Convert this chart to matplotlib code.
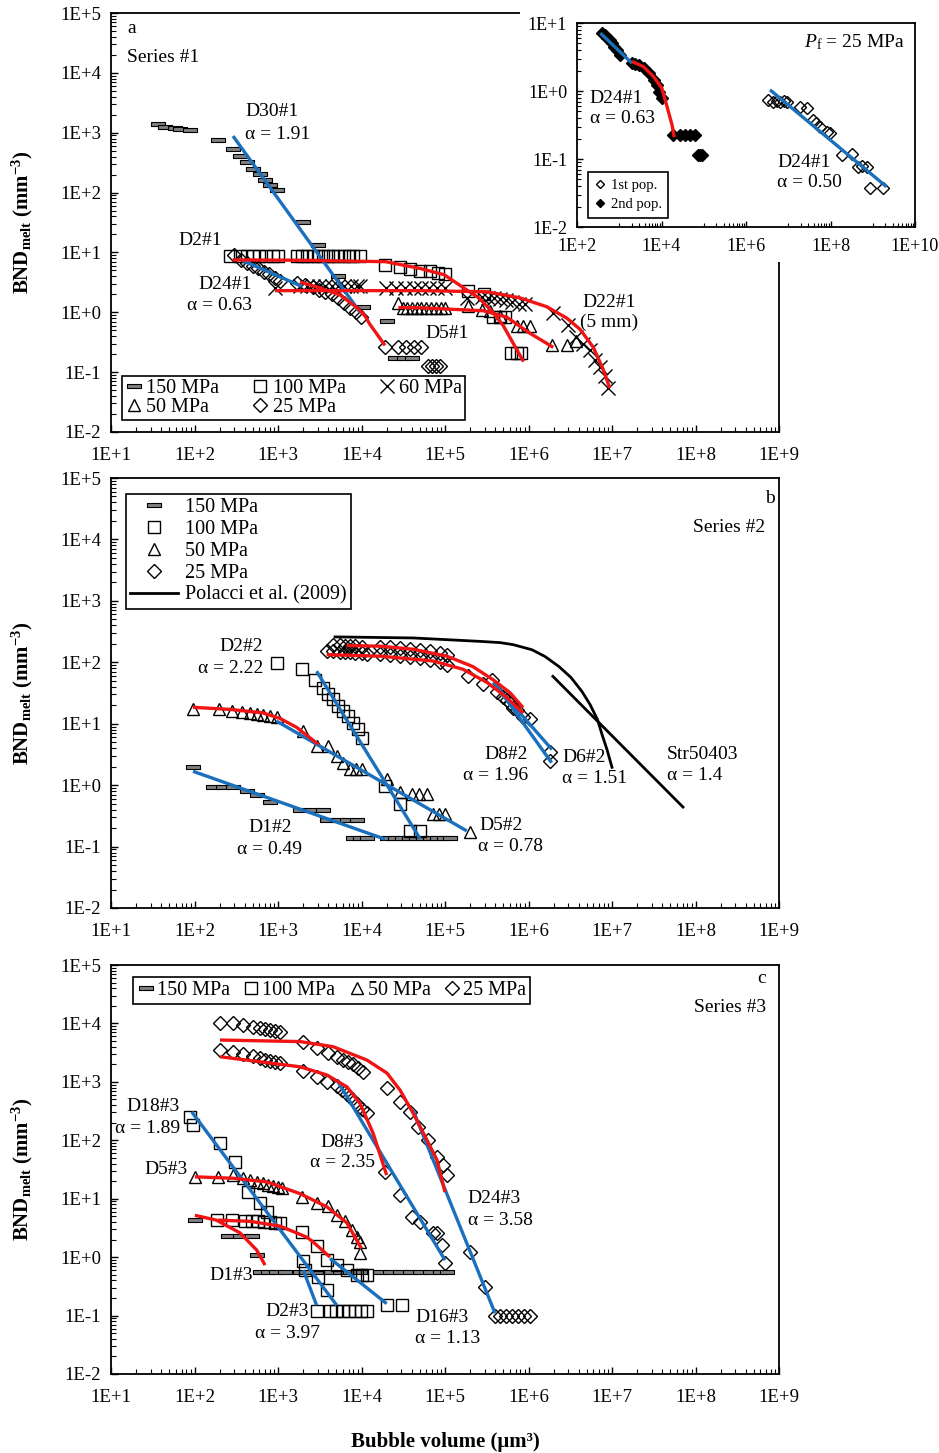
import numpy as np
import matplotlib
matplotlib.use("Agg")
import matplotlib.pyplot as plt
from matplotlib.path import Path
from matplotlib.lines import Line2D
from matplotlib.ticker import LogLocator, FixedLocator, FuncFormatter, NullFormatter

plt.rcParams['font.family'] = ['Liberation Serif', 'DejaVu Serif']
plt.rcParams['mathtext.fontset'] = 'custom'
plt.rcParams['mathtext.rm'] = 'Liberation Serif'
plt.rcParams['mathtext.it'] = 'Liberation Serif:italic'
plt.rcParams['mathtext.bf'] = 'Liberation Serif:bold'

# ---------------- panel a : series #1 ----------------
a150_x = [37, 44, 58, 67, 88, 191, 289, 351, 426, 502, 608, 700, 800, 972, 1992, 3012, 5200, 10400, 20200, 25000, 32000, 40000]
a150_y = [1390, 1250, 1190, 1150, 1100, 753, 535, 410, 325, 249, 205, 164, 135, 112, 31.7, 13.2, 4.0, 1.23, 0.72, 0.17, 0.17, 0.17]
a100_x = [266, 351, 420, 500, 600, 720, 860, 1000, 1690, 1950, 2250, 2600, 3000, 3450, 4000, 4600, 5300, 6100, 7000, 8000, 9500,
          19100, 28900, 38100, 50200, 66100, 82400, 100000, 188000, 293000, 380000, 450000, 530000, 620000, 720000, 820000]
a100_y = [8.6] * 21 + [6.1, 5.7, 5.3, 4.9, 4.9, 4.55, 4.4, 2.27, 2.0, 0.85, 0.85, 0.85, 0.21, 0.21, 0.21]
a60_x = [920, 1835, 2200, 2600, 3100, 3700, 4400, 5200, 6200, 7400, 8800, 9600,
         19700, 26000, 33000, 42000, 52000, 65000, 80000, 100000, 183000,
         280000, 330000, 390000, 460000, 540000, 640000, 760000, 900000,
         1.96e6, 2.97e6, 3.7e6, 4.5e6, 5.45e6, 6.3e6, 7.2e6, 8.2e6, 9.0e6]
a60_y = [2.55] + [2.8] * 11 + [2.5] * 8 + [1.75, 1.8, 1.75, 1.7, 1.65, 1.6, 1.5, 1.4, 1.35,
                                         0.98, 0.62, 0.38, 0.29, 0.23, 0.16, 0.12, 0.087, 0.055]
a50_x = [27400, 31000, 35000, 40000, 46000, 52000, 60000, 68000, 78000, 90000, 100000,
         188000, 277000, 350000, 455000, 720000, 850000, 1.03e6, 1.9e6, 2.9e6, 3.7e6]
a50_y = [1.44] + [1.2] * 10 + [1.28, 1.1, 1.06, 0.88, 0.6, 0.6, 0.6, 0.28, 0.28, 0.33]
a25_x = [300, 360, 430, 500, 580, 680, 790, 920, 1060,
         1700, 2100, 2600, 3100, 3700, 4400, 5200, 6200, 7300, 8500, 9800,
         19100, 27400, 34000, 42000, 52000, 62000, 70000, 78000, 86000]
a25_y = [9.0, 7.5, 6.6, 6.0, 5.4, 4.8, 4.3, 3.8, 3.3,
         3.1, 2.9, 2.6, 2.4, 2.2, 2.0, 1.7, 1.45, 1.2, 1.0, 0.85,
         0.26, 0.26, 0.26, 0.26, 0.26, 0.125, 0.125, 0.125, 0.125]

a_d30_blue_x = [289, 9600]
a_d30_blue_y = [880, 1.0]
a_d24_blue_x = [370, 1940]
a_d24_blue_y = [7.4, 2.7]
a_d24_red_x = [1835, 3184, 5530, 8800, 11000, 12600, 19100]
a_d24_red_y = [3.2, 2.55, 1.95, 1.2, 0.87, 0.63, 0.28]
a_d2_red_x = [286, 2000, 19500, 50200, 98000, 158000, 254000, 375000, 494000, 873000]
a_d2_red_y = [7.5, 7.4, 7.0, 5.4, 4.24, 2.7, 1.74, 1.0, 0.61, 0.15]
a_d22_red_x = [920, 50200, 316000, 790000, 1.65e6, 2.87e6, 4.14e6, 5.97e6, 7.87e6, 9.4e6]
a_d22_red_y = [2.3, 2.3, 2.2, 1.74, 1.24, 0.80, 0.52, 0.26, 0.11, 0.054]
a_d5_red_x = [27600, 50200, 288000, 548000, 1.03e6, 1.98e6]
a_d5_red_y = [1.2, 1.19, 1.06, 0.83, 0.45, 0.26]

# inset (D24#1, Pf = 25 MPa)
in2_x = [390, 450, 511, 590, 671, 770, 883, 1057, 1995, 2400, 2860, 3755, 4935, 6475, 7780, 8500, 10200,
         19200, 27700, 36000, 47000, 61000, 75000, 82000, 90000]
in2_y = [7.1, 6.6, 6.0, 5.6, 5.1, 4.5, 4.04, 3.4, 2.57, 2.5, 2.43, 2.2, 1.83, 1.46, 1.23, 0.98, 0.78,
         0.224, 0.224, 0.224, 0.224, 0.224, 0.115, 0.115, 0.115]
in1_x = [3.39e6, 4.37e6, 5.5e6, 6.5e6, 7.8e6, 9.4e6, 1.9e7, 2.74e7, 3.9e7, 4.6e7, 5.65e7, 8.1e7, 9.5e7,
         1.84e8, 3.2e8, 4.5e8, 5.5e8, 7.2e8, 8.6e8, 1.77e9]
in1_y = [0.74, 0.70, 0.72, 0.70, 0.71, 0.70, 0.59, 0.56, 0.375, 0.34, 0.30, 0.25, 0.24,
         0.114, 0.118, 0.077, 0.078, 0.077, 0.037, 0.037]
in2_blue_x = [357, 1995]
in2_blue_y = [7.1, 2.57]
in2_red_x = [1995, 3700, 6400, 10200, 13500, 17700, 20000]
in2_red_y = [2.72, 2.29, 1.64, 1.1, 0.59, 0.32, 0.21]
in1_blue_x = [3.7e6, 2.13e9]
in1_blue_y = [1.04, 0.039]

# ---------------- panel b : series #2 ----------------
b150_x = [96, 167, 219, 289, 426, 561, 801, 1835, 2550, 3460, 3860, 5090, 6700, 8830,
          7900, 9600, 11600, 20200, 25000, 30500, 37000, 45000, 55000, 66000, 80000, 98000, 114800]
b150_y = [1.95, 0.92, 0.92, 0.92, 0.79, 0.70, 0.53, 0.39, 0.39, 0.39, 0.27, 0.27, 0.27, 0.27] + [0.137] * 13
b100_x = [963, 1923, 2770, 3490, 4000, 4580, 5240, 6020, 6900, 7900, 9100, 10000, 19100, 28900, 38100, 50200]
b100_y = [98, 78, 52, 38, 30, 25, 19.5, 16, 13.2, 10.3, 8.1, 5.9, 0.97, 0.49, 0.18, 0.18]
b50_x = [96, 198, 279, 367, 462, 561, 661, 801, 963, 2010, 2900, 4000, 5040, 6020, 7280, 8700, 10000,
         20000, 28900, 39900, 48800, 60400, 71800, 84700, 100000, 199000]
b50_y = [17.5, 17.1, 16.1, 15.4, 15.0, 14.5, 14.0, 13.3, 12.7, 7.6, 4.33, 4.33, 2.97, 2.33, 1.81, 1.81, 1.81,
         1.24, 0.76, 0.71, 0.71, 0.71, 0.34, 0.34, 0.34, 0.17]
b25u_x = [4560, 5530, 6340, 7280, 8360, 10100, 16670, 21950, 28900, 38100, 50200, 66100, 87100, 105800,
          188000, 366000, 495000, 600000, 728000, 1.03e6, 1.81e6]
b25u_y = [190, 188, 186, 185, 183, 180, 178, 175, 170, 165, 158, 150, 140, 130, 59, 52, 27.7, 22, 17, 12, 3.4]
b25l_x = [3830, 4560, 5530, 6340, 7280, 8360, 10100, 11600, 16670, 21950, 28900, 38100, 50200, 66100, 87100,
          105800, 285000, 420000, 550000, 660000, 860000, 1.81e6]
b25l_y = [151, 150, 148, 146, 145, 143, 140, 138, 135, 132, 128, 124, 118, 110, 100, 90, 43.5, 33.4, 24, 18, 13, 2.44]

b_d1_blue_x = [96, 19100]
b_d1_blue_y = [1.68, 0.132]
b_d2_blue_x = [2900, 50200]
b_d2_blue_y = [71.5, 0.135]
b_d5_blue_x = [963, 182000]
b_d5_blue_y = [11, 0.18]
b_d5_red_x = [96, 266, 661, 1056, 1675, 2415, 3040]
b_d5_red_y = [18.5, 17.1, 15.0, 12.2, 8.7, 5.9, 4.6]
b_d8_blue_x = [417000, 1.89e6]
b_d8_blue_y = [40.7, 2.32]
b_d6_blue_x = [376000, 1.91e6]
b_d6_blue_y = [47, 3.8]
b_red_u_x = [6650, 16670, 41400, 105000, 216000, 376000, 600000, 860000]
b_red_u_y = [187, 183, 163, 126, 85, 52, 32, 18.3]
b_red_l_x = [3830, 16670, 71800, 164000, 318000, 553000, 860000]
b_red_l_y = [133, 126, 105, 77, 47, 26.6, 15]
polacci_x = [4820, 41400, 262600, 456000, 651500, 1.1e6, 1.58e6, 2.32e6, 3.23e6, 4.37e6, 5.45e6, 6.7e6,
             7.59e6, 8.71e6, 1e7]
polacci_y = [259, 249, 219, 209, 194, 160, 124, 85, 56.5, 33.4, 20.6, 11.7, 6.7, 3.8, 1.95]
str_x = [1.96e6, 7.08e7]
str_y = [59, 0.44]

# ---------------- panel c : series #3 ----------------
c150_x = [101, 252, 351, 484, 556, 608, 755, 945, 1200, 1835, 2415, 3184, 4197, 5530, 7283, 9594,
          16670, 21950, 28900, 38100, 50200, 66100, 87100, 105800]
c150_y = [4.4, 2.34, 2.34, 2.34, 1.08] + [0.56] * 19
c100_x = [88, 96, 202, 305, 438, 608, 740,
          186, 281, 402, 484, 575, 680, 801, 920, 1056, 1940, 2930, 3860, 5090, 6700, 8830, 10100, 11600, 20200, 30500,
          2010, 2100, 3010, 3860, 2930, 4200, 5000, 6000, 7000, 8300, 9800, 11600]
c100_y = [250, 182, 89, 42, 13, 8.4, 6.0,
          4.3, 4.3, 4.1, 4.1, 4.1, 4.0, 4.0, 3.9, 3.9, 2.7, 1.55, 0.89, 0.73, 0.6, 0.49, 0.49, 0.49, 0.15, 0.15,
          0.85, 0.6, 0.45, 0.27, 0.12, 0.12, 0.12, 0.12, 0.12, 0.12, 0.12, 0.12]
c50_x = [101, 193, 289, 381, 462, 561, 661, 755, 870, 1000, 1120, 1920, 2900, 4000, 5050, 6340, 7640, 8770, 9590, 9590]
c50_y = [23.7, 23.7, 25.4, 22.6, 20.8, 19.2, 18.5, 17.1, 16.5, 15.9, 15.3, 10.9, 8.4, 7.4, 5.2, 4.1, 2.9, 2.25, 1.84, 1.17]
c25u_x = [202, 289, 381, 502, 610, 700, 801, 920, 1056,
          1992, 2930, 3970, 5090, 6020, 6900, 7900, 9100, 10420,
          20200, 28900, 38100, 47600, 62500, 80200, 94700, 105800,
          199000, 302000, 397000, 455000, 535000, 630000, 740000, 880000, 1.03e6]
c25u_y = [10160, 10160, 9400, 8680, 8300, 8000, 7700, 7400, 7150,
          4800, 3790, 3110, 2660, 2400, 2200, 2000, 1750, 1500,
          783, 451, 304, 168, 101, 51.5, 37.6, 25.4,
          1.23, 0.31, 0.10, 0.10, 0.10, 0.10, 0.10, 0.10, 0.10]
c25l_x = [202, 289, 381, 502, 610, 700, 801, 920, 1056,
          1992, 2930, 3860, 5090, 5800, 6700, 7700, 8800, 10100, 11600,
          19100, 28900, 40000, 50200, 71800, 80200, 92100, 100000]
c25l_y = [3500, 3220, 2980, 2760, 2550, 2360, 2270, 2180, 2100,
          1540, 1210, 990, 850, 724, 615, 505, 415, 340, 293,
          28.5, 11.5, 4.84, 4.0, 2.58, 2.58, 1.6, 0.79]

c_d18_blue_x = [92.5, 5050]
c_d18_blue_y = [307, 0.15]
c_d2_blue_x = [2010, 2900]
c_d2_blue_y = [0.6, 0.15]
c_d16_blue_x = [4200, 20000]
c_d16_blue_y = [0.95, 0.16]
c_d8_blue_x = [5090, 100000]
c_d8_blue_y = [1070, 0.89]
c_d24_blue_x = [41400, 397000]
c_d24_blue_y = [329, 0.11]
c_d24_red_x = [202, 1835, 4560, 11600, 20200, 28900, 41400, 60800, 80200, 100000]
c_d24_red_y = [5200, 4890, 4000, 2360, 1410, 724, 293, 101, 46, 13]
c_d8_red_x = [202, 1835, 3860, 6700, 9590, 13800, 20000]
c_d8_red_y = [2690, 1810, 1310, 820, 429, 131, 25.4]
c_d5_red_x = [101, 289, 733, 1835, 3830, 6650, 10000]
c_d5_red_y = [23.7, 22.4, 19.4, 12.2, 7.3, 3.9, 1.4]
c_d16_red_x = [191, 462, 1056, 2210, 2620, 4200]
c_d16_red_y = [4.3, 4.1, 3.4, 2.2, 1.83, 1.0]
c_d1_red_x = [101, 183, 351, 556, 700]
c_d1_red_y = [5.2, 4.3, 2.6, 1.32, 0.73]

# ---------------- styles ----------------
RED = '#f01414'
BLUE = '#1a70bd'
FIT = dict(lw=2.4, solid_capstyle='butt', zorder=3)
dash = Path([(-1, -0.3), (1, -0.3), (1, 0.3), (-1, 0.3), (-1, -0.3)],
            [Path.MOVETO, Path.LINETO, Path.LINETO, Path.LINETO, Path.CLOSEPOLY])
M150 = dict(ls='none', marker=dash, ms=10.5, mfc='#808080', mec='k', mew=0.8, zorder=2)
M100 = dict(ls='none', marker='s', ms=8.7, mfc='none', mec='k', mew=1.0, zorder=2)
M60 = dict(ls='none', marker='x', ms=10, mec='k', mew=1.0, zorder=2)
M50 = dict(ls='none', marker='^', ms=9, mfc='none', mec='k', mew=1.0, zorder=2)
M25 = dict(ls='none', marker='D', ms=6.8, mfc='none', mec='k', mew=1.0, zorder=2)
FS = 14

def efmt(v, pos):
    return "1E%+d" % int(round(np.log10(v)))

def style_main(ax):
    ax.set_xscale('log')
    ax.set_yscale('log')
    ax.set_xlim(1e1, 1e9)
    ax.set_ylim(1e-2, 1e5)
    for axis in (ax.xaxis, ax.yaxis):
        axis.set_major_locator(LogLocator(base=10, numticks=30))
        axis.set_minor_locator(LogLocator(base=10, subs=np.arange(2, 10), numticks=100))
        axis.set_major_formatter(FuncFormatter(efmt))
        axis.set_minor_formatter(NullFormatter())
    ax.tick_params(which='both', direction='in', top=False, right=False, labelsize=13.5)
    ax.tick_params(which='major', length=5, width=1)
    ax.tick_params(which='minor', length=3.5, width=0.8)
    ax.tick_params(axis='y', which='major', pad=7)
    ax.tick_params(axis='x', which='major', pad=11)
    for s in ax.spines.values():
        s.set_linewidth(1.3)

def make_legend(ax, handles, **kw):
    leg = ax.legend(handles=handles, frameon=True, fancybox=False, edgecolor='k',
                    framealpha=1, borderaxespad=0, fontsize=14.5, **kw)
    leg.get_frame().set_linewidth(1.2)
    return leg

fig = plt.figure(figsize=(9.39, 14.53), dpi=100)
W, H = 939, 1453
axA = fig.add_axes([111 / W, 1 - 432 / H, 668 / W, 419 / H])
axB = fig.add_axes([111 / W, 1 - 908 / H, 668 / W, 430 / H])
axC = fig.add_axes([111 / W, 1 - 1374 / H, 668 / W, 409 / H])
for ax in (axA, axB, axC):
    style_main(ax)

h150 = Line2D([], [], **M150, label='150 MPa')
h100 = Line2D([], [], **M100, label='100 MPa')
h60 = Line2D([], [], **M60, label='60 MPa')
h50 = Line2D([], [], **M50, label='50 MPa')
h25 = Line2D([], [], **M25, label='25 MPa')

# ---- panel a
axA.plot(a150_x, a150_y, **M150)
axA.plot(a100_x, a100_y, **M100)
axA.plot(a60_x, a60_y, **M60)
axA.plot(a50_x, a50_y, **M50)
axA.plot(a25_x, a25_y, **M25)
axA.plot(a_d30_blue_x, a_d30_blue_y, color=BLUE, **FIT)
axA.plot(a_d24_blue_x, a_d24_blue_y, color=BLUE, **FIT)
axA.plot(a_d24_red_x, a_d24_red_y, color=RED, **FIT)
axA.plot(a_d2_red_x, a_d2_red_y, color=RED, **FIT)
axA.plot(a_d22_red_x, a_d22_red_y, color=RED, **FIT)
axA.plot(a_d5_red_x, a_d5_red_y, color=RED, **FIT)
make_legend(axA, [h150, h50, h100, h25, h60], ncol=3, loc='lower left',
            bbox_to_anchor=(0.0165, 0.0286), handlelength=0.9, handletextpad=0.15,
            columnspacing=1.6, labelspacing=0.0, borderpad=0.15)
ta = dict(transform=axA.transAxes, fontsize=FS, va='center')
axA.text(0.024, 0.964, 'a', **ta)
axA.text(0.024, 0.893, 'Series #1', **ta)
axA.text(0.2006, 0.764, 'D30#1', **ta)
axA.text(0.2006, 0.711, 'α = 1.91', **ta)
axA.text(0.1003, 0.456, 'D2#1', **ta)
axA.text(0.211, 0.351, 'D24#1', ha='right', **ta)
axA.text(0.211, 0.301, 'α = 0.63', ha='right', **ta)
axA.text(0.470, 0.236, 'D5#1', **ta)
axA.text(0.705, 0.310, 'D22#1', **ta)
axA.text(0.702, 0.2625, '(5 mm)', **ta)

# inset
bg = fig.add_axes([520 / W, 1 - 262 / H, 419 / W, 262 / H], zorder=5)
bg.set_facecolor('white')
bg.set_xticks([])
bg.set_yticks([])
for s in bg.spines.values():
    s.set_visible(False)
ins = fig.add_axes([577 / W, 1 - 227 / H, 338 / W, 204 / H], zorder=6)
ins.set_xscale('log')
ins.set_yscale('log')
ins.set_xlim(1e2, 1e10)
ins.set_ylim(1e-2, 1e1)
ins.xaxis.set_major_locator(FixedLocator([1e2, 1e4, 1e6, 1e8, 1e10]))
ins.xaxis.set_minor_locator(FixedLocator([m * 10.0 ** n for n in (3, 5, 7, 9) for m in range(1, 10)]))
ins.yaxis.set_major_locator(LogLocator(base=10, numticks=10))
ins.yaxis.set_minor_locator(LogLocator(base=10, subs=np.arange(2, 10), numticks=50))
for axis in (ins.xaxis, ins.yaxis):
    axis.set_major_formatter(FuncFormatter(efmt))
    axis.set_minor_formatter(NullFormatter())
ins.tick_params(which='both', direction='in', labelsize=13)
ins.tick_params(which='major', length=4, width=1)
ins.tick_params(which='minor', length=3, width=0.8)
ins.tick_params(axis='y', pad=7)
ins.tick_params(axis='x', pad=8)
for s in ins.spines.values():
    s.set_linewidth(1.3)
MI1 = dict(ls='none', marker='D', ms=6.3, mfc='none', mec='k', mew=1.0, zorder=2)
MI2 = dict(ls='none', marker='D', ms=6.3, mfc='k', mec='k', mew=1.0, zorder=2)
ins.plot(in1_x, in1_y, **MI1)
ins.plot(in2_x, in2_y, **MI2)
ins.plot(in2_blue_x, in2_blue_y, color=BLUE, **FIT)
ins.plot(in2_red_x, in2_red_y, color=RED, **FIT)
ins.plot(in1_blue_x, in1_blue_y, color=BLUE, **FIT)
ti = dict(transform=ins.transAxes, fontsize=FS, va='center')
ins.text(0.970, 0.907, r'$\mathit{P}_{\mathrm{f}}$ = 25 MPa', ha='right', **ti)
ins.text(0.038, 0.632, 'D24#1', **ti)
ins.text(0.038, 0.534, 'α = 0.63', **ti)
ins.text(0.592, 0.314, 'D24#1', **ti)
ins.text(0.592, 0.216, 'α = 0.50', **ti)
li = ins.legend(handles=[Line2D([], [], ls='none', marker='D', ms=4.5, mfc='none', mec='k', mew=1, label='1st pop.'),
                         Line2D([], [], ls='none', marker='D', ms=4.5, mfc='k', mec='k', mew=1, label='2nd pop.')],
                loc='lower left', bbox_to_anchor=(0.0325, 0.044), borderaxespad=0, frameon=True,
                fancybox=False, edgecolor='k', framealpha=1, fontsize=10.5, handlelength=0.8,
                handletextpad=0.3, labelspacing=0.45, borderpad=0.45)
li.get_frame().set_linewidth(1.2)

# ---- panel b
axB.plot(b150_x, b150_y, **M150)
axB.plot(b100_x, b100_y, **M100)
axB.plot(b50_x, b50_y, **M50)
axB.plot(b25u_x, b25u_y, **M25)
axB.plot(b25l_x, b25l_y, **M25)
axB.plot(polacci_x, polacci_y, color='k', lw=2.0, zorder=3)
axB.plot(str_x, str_y, color='k', lw=2.0, zorder=3)
for xs, ys in ((b_d1_blue_x, b_d1_blue_y), (b_d2_blue_x, b_d2_blue_y), (b_d5_blue_x, b_d5_blue_y),
               (b_d8_blue_x, b_d8_blue_y), (b_d6_blue_x, b_d6_blue_y)):
    axB.plot(xs, ys, color=BLUE, **FIT)
for xs, ys in ((b_d5_red_x, b_d5_red_y), (b_red_u_x, b_red_u_y), (b_red_l_x, b_red_l_y)):
    axB.plot(xs, ys, color=RED, **FIT)
hpol = Line2D([], [], color='k', lw=2.0, label='Polacci et al. (2009)')
make_legend(axB, [h150, h100, h50, h25, hpol], loc='upper left', bbox_to_anchor=(0.0225, 0.963),
            handlelength=2.4, handletextpad=0.35, labelspacing=0.14, borderpad=0.2)
tb = dict(transform=axB.transAxes, fontsize=FS, va='center')
axB.text(0.9865, 0.953, 'b', ha='center', **tb)
axB.text(0.980, 0.886, 'Series #2', ha='right', **tb)
axB.text(0.2275, 0.607, 'D2#2', ha='right', **tb)
axB.text(0.2275, 0.556, 'α = 2.22', ha='right', **tb)
axB.text(0.238, 0.188, 'D1#2', ha='center', **tb)
axB.text(0.238, 0.137, 'α = 0.49', ha='center', **tb)
axB.text(0.552, 0.191, 'D5#2', **tb)
axB.text(0.549, 0.142, 'α = 0.78', **tb)
axB.text(0.624, 0.356, 'D8#2', ha='right', **tb)
axB.text(0.624, 0.309, 'α = 1.96', ha='right', **tb)
axB.text(0.675, 0.351, 'D6#2', **tb)
axB.text(0.675, 0.302, 'α = 1.51', **tb)
axB.text(0.832, 0.356, 'Str50403', **tb)
axB.text(0.832, 0.309, 'α = 1.4', **tb)

# ---- panel c
axC.plot(c150_x, c150_y, **M150)
axC.plot(c100_x, c100_y, **M100)
axC.plot(c50_x, c50_y, **M50)
axC.plot(c25u_x, c25u_y, **M25)
axC.plot(c25l_x, c25l_y, **M25)
for xs, ys in ((c_d18_blue_x, c_d18_blue_y), (c_d2_blue_x, c_d2_blue_y), (c_d16_blue_x, c_d16_blue_y),
               (c_d8_blue_x, c_d8_blue_y), (c_d24_blue_x, c_d24_blue_y)):
    axC.plot(xs, ys, color=BLUE, **FIT)
for xs, ys in ((c_d24_red_x, c_d24_red_y), (c_d8_red_x, c_d8_red_y), (c_d5_red_x, c_d5_red_y),
               (c_d16_red_x, c_d16_red_y), (c_d1_red_x, c_d1_red_y)):
    axC.plot(xs, ys, color=RED, **FIT)
make_legend(axC, [h150, h100, h50, h25], ncol=4, loc='upper left', bbox_to_anchor=(0.033, 0.971),
            handlelength=0.9, handletextpad=0.1, columnspacing=0.6, borderpad=0.2)
tc = dict(transform=axC.transAxes, fontsize=FS, va='center')
axC.text(0.9745, 0.968, 'c', ha='center', **tc)
axC.text(0.980, 0.895, 'Series #3', ha='right', **tc)
axC.text(0.103, 0.653, 'D18#3', ha='right', **tc)
axC.text(0.103, 0.601, 'α = 1.89', ha='right', **tc)
axC.text(0.114, 0.499, 'D5#3', ha='right', **tc)
axC.text(0.2126, 0.242, 'D1#3', ha='right', **tc)
axC.text(0.2305, 0.152, 'D2#3', **tc)
axC.text(0.2156, 0.100, 'α = 3.97', **tc)
axC.text(0.455, 0.137, 'D16#3', **tc)
axC.text(0.455, 0.088, 'α = 1.13', **tc)
axC.text(0.534, 0.430, 'D24#3', **tc)
axC.text(0.534, 0.3765, 'α = 3.58', **tc)
axC.text(0.313, 0.567, 'D8#3', **tc)
axC.text(0.298, 0.518, 'α = 2.35', **tc)

# axis titles
ylab = r'$\mathbf{BND_{melt}\ (mm^{-3})}$'
for yc in (222.5, 693, 1169.5):
    fig.text(22 / W, 1 - yc / H, ylab, rotation=90, ha='center', va='center', fontsize=15)
fig.text(445 / W, 1 - 1442 / H, 'Bubble volume (μm³)', ha='center', va='center',
         fontsize=15, fontweight='bold')

fig.savefig('out.png', dpi=100)
